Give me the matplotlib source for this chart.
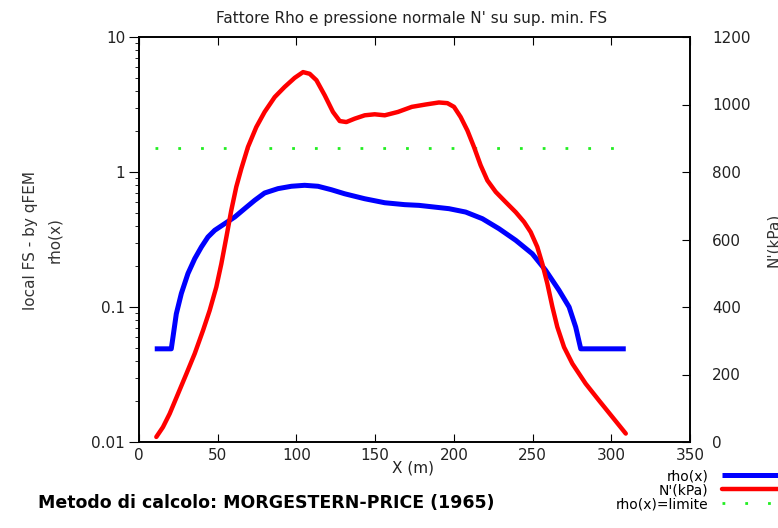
import matplotlib

matplotlib.use("Agg")
import matplotlib.pyplot as plt
from matplotlib.ticker import LogLocator, NullFormatter, FixedLocator

plt.rcParams["font.family"] = ["DejaVu Sans"]

# rho(x) - scala log (asse sinistro)
rho_x = [10, 20.5, 21.6, 23.7, 26.9, 31.1, 35.4, 39.6, 43.8, 48.1, 54.4, 60.8, 67.1,
         73.5, 79.8, 88.3, 96.8, 105.2, 113.7, 122.2, 130.6, 143.3, 156.1, 168.8,
         177.9, 196.9, 207.5, 218.1, 228.7, 239.3, 249.8, 258.3, 266.8, 273.2,
         277.4, 280.6, 309.2]
rho_y = [0.049, 0.049, 0.060, 0.089, 0.126, 0.177, 0.228, 0.278, 0.330, 0.370, 0.414,
         0.464, 0.535, 0.617, 0.699, 0.753, 0.784, 0.797, 0.784, 0.739, 0.690, 0.634,
         0.592, 0.573, 0.566, 0.535, 0.505, 0.451, 0.380, 0.312, 0.248, 0.187, 0.133,
         0.100, 0.071, 0.049, 0.049]

# N'(kPa) - scala lineare (asse destro)
n_x = [11.0, 15.2, 19.5, 24.8, 30.1, 35.4, 40.7, 44.9, 49.1, 52.3, 55.5, 58.6, 61.8,
       65.0, 69.2, 74.5, 79.8, 86.2, 92.5, 98.9, 104.2, 108.4, 112.7, 118.0, 123.2,
       127.5, 131.7, 137.0, 143.4, 149.7, 156.1, 164.5, 173.3, 182.1, 190.5, 195.9,
       200.1, 204.3, 208.6, 212.8, 217.0, 221.3, 226.6, 232.9, 239.3, 244.6, 248.8,
       253.0, 256.2, 259.4, 262.6, 265.7, 270.0, 275.3, 283.7, 292.2, 300.7, 309.2]
n_y = [15, 44, 84, 143, 202, 262, 331, 390, 459, 528, 607, 686, 756,
       810, 874, 933, 978, 1022, 1052, 1079, 1096, 1091, 1072, 1027, 978,
       951, 948, 958, 968, 971, 968, 978, 993, 1000, 1006, 1004,
       993, 963, 923, 874, 820, 775, 741, 711, 681, 652, 622,
       578, 528, 469, 400, 341, 281, 232, 173, 123, 74, 25]

# rho(x) = limite
lim_x = [10, 310]
lim_y = [1.5, 1.5]

x_ticks = [0, 50, 100, 150, 200, 250, 300, 350]
n_ticks = [0, 200, 400, 600, 800, 1000, 1200]

fig = plt.figure(figsize=(7.78, 5.28), dpi=100)
ax = fig.add_axes([139 / 778, 1 - 442 / 528, 551 / 778, 405 / 528])
ax2 = ax.twinx()

l_rho, = ax.plot(rho_x, rho_y, color="#0000ff", lw=3.6, solid_joinstyle="round",
                 solid_capstyle="butt", zorder=3)
l_lim, = ax.plot(lim_x, lim_y, color="#22ee22", lw=2.0, linestyle=(0, (1, 7.2)), zorder=2)
l_n, = ax2.plot(n_x, n_y, color="#ff0000", lw=3.2, solid_joinstyle="round",
                solid_capstyle="round", zorder=4)

ax.set_yscale("log")
ax.set_ylim(0.01, 10)
ax.set_xlim(0, 350)
ax2.set_ylim(0, 1200)

ax.xaxis.set_major_locator(FixedLocator(x_ticks))
ax.set_xticklabels([str(v) for v in x_ticks])
ax.yaxis.set_major_locator(FixedLocator([0.01, 0.1, 1, 10]))
ax.set_yticklabels(["0.01", "0.1", "1", "10"])
ax.yaxis.set_minor_locator(LogLocator(base=10, subs=range(2, 10)))
ax.yaxis.set_minor_formatter(NullFormatter())
ax2.yaxis.set_major_locator(FixedLocator(n_ticks))

ax.tick_params(axis="x", direction="in", top=True, length=6, labelsize=11, pad=4,
               labelcolor="#222222")
ax.tick_params(axis="y", which="major", direction="out", length=7, labelsize=11, pad=3,
               labelcolor="#222222")
ax.tick_params(axis="y", which="minor", direction="out", length=3)
ax2.tick_params(axis="y", direction="in", length=6, labelsize=11, pad=16,
                labelcolor="#222222")

for a in (ax, ax2):
    for s in a.spines.values():
        s.set_linewidth(1.2)

fig.text(412 / 778, 1 - 18 / 528, "Fattore Rho e pressione normale N' su sup. min. FS",
         ha="center", va="center", fontsize=11, color="#222222")
fig.text(413 / 778, 1 - 468 / 528, "X (m)", ha="center", va="center", fontsize=11,
         color="#222222")
fig.text(31 / 778, 1 - 240 / 528, "local FS - by qFEM", rotation=90, ha="center",
         va="center", fontsize=11, color="#333333")
fig.text(55 / 778, 1 - 240 / 528, "rho(x)", rotation=90, ha="center", va="center",
         fontsize=11, color="#333333")
fig.text(774 / 778, 1 - 240 / 528, "N'(kPa)", rotation=90, ha="center", va="center",
         fontsize=11, color="#333333")
fig.text(38 / 778, 1 - 503 / 528, "Metodo di calcolo: MORGESTERN-PRICE (1965)",
         ha="left", va="center", fontsize=12.5, fontweight="bold", color="black")

fig.legend([l_rho, l_n, l_lim], ["rho(x)", "N'(kPa)", "rho(x)=limite"],
           loc="upper right", bbox_to_anchor=(1.0, 1 - 469 / 528),
           frameon=False, markerfirst=False, fontsize=10, handlelength=4.0,
           handletextpad=1.0, labelspacing=0.0, borderaxespad=0, borderpad=0)

fig.savefig("out.png", dpi=100)
